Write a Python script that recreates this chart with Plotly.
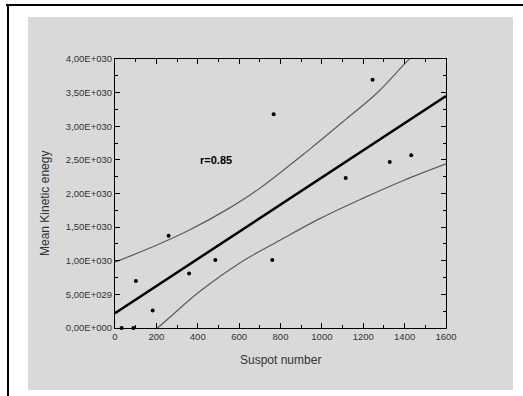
import plotly.graph_objects as go

# Data (kinetic energy in units of 1e30)
sunspot = [32, 89, 101, 182, 259, 358, 485, 760, 767, 1115, 1245, 1328, 1432]
energy = [0.0, 0.0, 0.70, 0.26, 1.37, 0.81, 1.01, 1.01, 3.18, 2.23, 3.69, 2.47, 2.57]

fit_x = [0, 1600]
fit_y = [0.22, 3.45]

upper_x = [0, 200, 362, 540, 701, 942, 1103, 1265, 1410, 1500]
upper_y = [0.98, 1.23, 1.46, 1.76, 2.08, 2.66, 3.07, 3.49, 3.96, 4.24]

lower_x = [150, 205, 400, 600, 800, 992, 1192, 1392, 1600]
lower_y = [-0.12, 0.0, 0.52, 0.96, 1.31, 1.63, 1.92, 2.19, 2.44]

x_ticks = [0, 200, 400, 600, 800, 1000, 1200, 1400, 1600]
y_ticks = [0, 0.5, 1.0, 1.5, 2.0, 2.5, 3.0, 3.5, 4.0]
y_tick_text = ["0,00E+000", "5,00E+029", "1,00E+030", "1,50E+030", "2,00E+030",
               "2,50E+030", "3,00E+030", "3,50E+030", "4,00E+030"]

W, H = 523, 396
L, R, T, B = 115, 446, 59, 328
pw, ph = R - L, B - T

def px(x):
    return (x - L) / pw

def py(y):
    return (B - y) / ph

fig = go.Figure()
fig.add_trace(go.Scatter(x=upper_x, y=upper_y, mode="lines",
                         line=dict(color="#5a5a5a", width=1.2, shape="spline", smoothing=1.0),
                         showlegend=False))
fig.add_trace(go.Scatter(x=lower_x, y=lower_y, mode="lines",
                         line=dict(color="#5a5a5a", width=1.2, shape="spline", smoothing=1.0),
                         showlegend=False))
fig.add_trace(go.Scatter(x=fit_x, y=fit_y, mode="lines",
                         line=dict(color="black", width=2.5), showlegend=False))
fig.add_trace(go.Scatter(x=sunspot, y=energy, mode="markers",
                         marker=dict(color="black", size=4), cliponaxis=False,
                         showlegend=False))

axis_common = dict(showgrid=False, zeroline=False, showline=True, linecolor="black",
                   linewidth=1, mirror="ticks", ticks="inside", ticklen=5,
                   tickcolor="black", tickwidth=1,
                   tickfont=dict(family="Liberation Sans, Arial", size=9.5, color="#333333"))

fig.update_xaxes(range=[0, 1600], tickvals=x_ticks,
                 minor=dict(ticks="inside", ticklen=3, dtick=100, tickcolor="black"),
                 **axis_common)
fig.update_yaxes(range=[0, 4.0], tickvals=y_ticks, ticktext=y_tick_text,
                 minor=dict(ticks="inside", ticklen=3, dtick=0.25, tickcolor="black"),
                 **axis_common)

shapes = [
    dict(type="rect", xref="paper", yref="paper", x0=px(28), x1=px(513), y0=py(390), y1=py(17),
         fillcolor="#d9d9d9", line=dict(width=0), layer="below"),
    dict(type="line", xref="paper", yref="paper", x0=px(6), x1=px(523), y0=py(5), y1=py(5),
         line=dict(color="black", width=2)),
    dict(type="line", xref="paper", yref="paper", x0=px(8), x1=px(8), y0=py(4), y1=py(400),
         line=dict(color="black", width=2)),
]

annotations = [
    dict(text="<b>r=0.85</b>", x=490, y=2.5, xref="x", yref="y", showarrow=False,
         font=dict(family="Liberation Sans, Arial", size=11, color="black"),
         xanchor="center", yanchor="middle"),
    dict(text="Suspot number", x=0.5, y=py(360), xref="paper", yref="paper", showarrow=False,
         font=dict(family="Liberation Sans, Arial", size=12, color="#333333"),
         xanchor="center", yanchor="middle"),
    dict(text="Mean Kinetic enegy", x=px(45), y=py(204), xref="paper", yref="paper",
         showarrow=False, textangle=-90,
         font=dict(family="Liberation Sans, Arial", size=12, color="#333333"),
         xanchor="center", yanchor="middle"),
]

fig.update_layout(width=W, height=H, margin=dict(l=L, r=W - R, t=T, b=H - B),
                  paper_bgcolor="white", plot_bgcolor="rgba(0,0,0,0)",
                  shapes=shapes, annotations=annotations, showlegend=False)

fig.write_html("out.html", config={"displayModeBar": False},
               post_script="document.body.style.margin='0';")
